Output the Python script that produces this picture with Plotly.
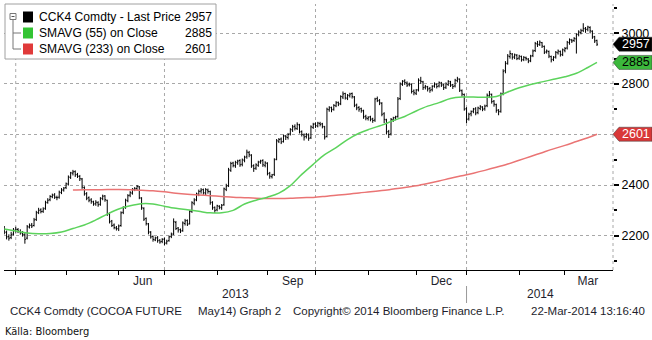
import pandas as pd
import plotly.graph_objects as go

# ---------------- data ----------------
trade_start = "2013-03-25"
trade_end = "2014-03-21"

opens = [
    2225, 2212, 2196, 2192, 2206, 2220, 2224, 2216, 2210, 2203,
    2190, 2234, 2242, 2240, 2264, 2292, 2302, 2296, 2308, 2332,
    2342, 2354, 2361, 2351, 2352, 2370, 2381, 2390, 2404, 2430,
    2447, 2453, 2442, 2434, 2424, 2390, 2366, 2350, 2341, 2333,
    2326, 2330, 2324, 2346, 2357, 2340, 2287, 2258, 2242, 2230,
    2226, 2240, 2292, 2312, 2338, 2360, 2368, 2384, 2386, 2393,
    2348, 2308, 2268, 2246, 2213, 2197, 2183, 2192, 2182, 2177,
    2186, 2171, 2180, 2197, 2207, 2252, 2230, 2224, 2220, 2248,
    2260, 2247, 2297, 2328, 2342, 2363, 2376, 2382, 2368, 2380,
    2374, 2332, 2312, 2302, 2316, 2310, 2322, 2383, 2398, 2458,
    2487, 2476, 2488, 2497, 2482, 2498, 2512, 2528, 2518, 2477,
    2467, 2478, 2492, 2497, 2478, 2486, 2447, 2433, 2442, 2502,
    2573, 2582, 2572, 2593, 2588, 2602, 2618, 2632, 2623, 2638,
    2612, 2598, 2592, 2598, 2587, 2628, 2642, 2633, 2643, 2642,
    2630, 2592, 2698, 2707, 2700, 2713, 2727, 2722, 2748, 2762,
    2743, 2753, 2762, 2748, 2717, 2707, 2702, 2693, 2672, 2663,
    2670, 2662, 2657, 2742, 2733, 2723, 2682, 2658, 2612, 2602,
    2658, 2667, 2672, 2742, 2798, 2812, 2803, 2797, 2798, 2772,
    2763, 2777, 2813, 2808, 2787, 2788, 2782, 2777, 2792, 2798,
    2792, 2803, 2797, 2787, 2798, 2808, 2797, 2792, 2813, 2818,
    2773, 2758, 2702, 2662, 2682, 2692, 2702, 2687, 2703, 2708,
    2702, 2714, 2753, 2758, 2732, 2718, 2697, 2692, 2762, 2852,
    2882, 2908, 2918, 2907, 2913, 2902, 2908, 2897, 2903, 2898,
    2892, 2912, 2932, 2958, 2957, 2963, 2948, 2927, 2928, 2908,
    2897, 2907, 2923, 2928, 2917, 2933, 2942, 2963, 2973, 2972,
    2978, 2997, 3003, 3012, 3018, 3017, 3023, 3008, 2987, 2972,
]
highs = [
    2238, 2220, 2205, 2215, 2230, 2235, 2230, 2225, 2218, 2210,
    2242, 2248, 2250, 2270, 2298, 2310, 2308, 2312, 2338, 2348,
    2360, 2366, 2368, 2358, 2378, 2388, 2392, 2410, 2438, 2452,
    2460, 2458, 2448, 2440, 2428, 2395, 2372, 2355, 2348, 2338,
    2340, 2336, 2352, 2362, 2360, 2342, 2292, 2262, 2248, 2238,
    2244, 2296, 2316, 2346, 2364, 2376, 2388, 2392, 2400, 2396,
    2352, 2312, 2272, 2250, 2218, 2200, 2196, 2198, 2186, 2190,
    2192, 2184, 2200, 2212, 2268, 2258, 2234, 2228, 2256, 2266,
    2264, 2300, 2336, 2348, 2370, 2382, 2388, 2386, 2388, 2386,
    2378, 2336, 2315, 2322, 2320, 2325, 2390, 2405, 2468, 2492,
    2492, 2496, 2500, 2502, 2505, 2516, 2540, 2535, 2522, 2482,
    2486, 2496, 2500, 2502, 2494, 2490, 2452, 2444, 2506, 2582,
    2586, 2588, 2600, 2598, 2606, 2625, 2638, 2640, 2648, 2642,
    2616, 2604, 2606, 2604, 2636, 2646, 2648, 2650, 2650, 2646,
    2634, 2706, 2712, 2710, 2720, 2732, 2730, 2755, 2770, 2765,
    2760, 2765, 2766, 2752, 2722, 2712, 2706, 2698, 2678, 2672,
    2674, 2666, 2745, 2750, 2740, 2728, 2688, 2662, 2618, 2665,
    2670, 2674, 2748, 2806, 2815, 2818, 2810, 2805, 2802, 2778,
    2780, 2822, 2828, 2812, 2796, 2792, 2788, 2795, 2806, 2802,
    2810, 2808, 2800, 2806, 2815, 2812, 2800, 2820, 2828, 2822,
    2778, 2762, 2708, 2686, 2695, 2705, 2708, 2710, 2716, 2712,
    2718, 2762, 2772, 2762, 2736, 2722, 2700, 2766, 2858, 2890,
    2918, 2932, 2922, 2920, 2918, 2915, 2912, 2910, 2908, 2902,
    2915, 2936, 2966, 2970, 2972, 2966, 2952, 2936, 2932, 2912,
    2910, 2930, 2936, 2932, 2940, 2946, 2970, 2980, 2978, 2985,
    3000, 3012, 3018, 3040, 3025, 3030, 3028, 3012, 2990, 2975,
]
lows = [
    2205, 2185, 2180, 2186, 2200, 2212, 2210, 2204, 2196, 2168,
    2185, 2228, 2230, 2236, 2258, 2285, 2288, 2290, 2302, 2326,
    2336, 2348, 2345, 2340, 2346, 2364, 2374, 2384, 2398, 2424,
    2438, 2432, 2428, 2416, 2385, 2358, 2340, 2332, 2326, 2318,
    2318, 2314, 2318, 2340, 2334, 2278, 2248, 2234, 2225, 2220,
    2218, 2235, 2285, 2306, 2332, 2352, 2362, 2376, 2380, 2344,
    2302, 2258, 2240, 2205, 2188, 2176, 2178, 2172, 2168, 2170,
    2162, 2165, 2176, 2190, 2202, 2222, 2212, 2210, 2215, 2240,
    2238, 2244, 2290, 2320, 2336, 2356, 2366, 2362, 2360, 2366,
    2322, 2302, 2290, 2296, 2304, 2302, 2318, 2376, 2392, 2452,
    2470, 2468, 2480, 2472, 2474, 2490, 2504, 2510, 2468, 2452,
    2460, 2472, 2484, 2472, 2470, 2438, 2425, 2426, 2436, 2498,
    2566, 2562, 2568, 2578, 2580, 2596, 2610, 2616, 2618, 2604,
    2592, 2576, 2584, 2575, 2582, 2622, 2626, 2628, 2632, 2624,
    2580, 2588, 2690, 2688, 2694, 2708, 2712, 2716, 2740, 2738,
    2736, 2746, 2742, 2708, 2696, 2690, 2686, 2662, 2656, 2655,
    2652, 2646, 2650, 2728, 2716, 2672, 2645, 2600, 2586, 2596,
    2650, 2656, 2666, 2736, 2792, 2796, 2788, 2790, 2762, 2755,
    2756, 2770, 2800, 2776, 2778, 2770, 2765, 2770, 2785, 2782,
    2786, 2788, 2776, 2780, 2792, 2788, 2780, 2786, 2806, 2768,
    2750, 2694, 2645, 2655, 2672, 2684, 2676, 2680, 2696, 2692,
    2694, 2708, 2744, 2722, 2710, 2686, 2676, 2686, 2755, 2842,
    2876, 2900, 2896, 2898, 2894, 2895, 2888, 2890, 2892, 2882,
    2886, 2906, 2926, 2946, 2950, 2942, 2918, 2920, 2902, 2885,
    2890, 2900, 2916, 2908, 2910, 2925, 2936, 2955, 2962, 2966,
    2920, 2988, 2996, 3005, 3002, 3008, 3000, 2978, 2962, 2950,
]
closes = [
    2215, 2195, 2190, 2205, 2222, 2225, 2218, 2212, 2205, 2185,
    2235, 2240, 2238, 2262, 2290, 2300, 2295, 2305, 2330, 2340,
    2355, 2360, 2352, 2350, 2372, 2380, 2388, 2405, 2432, 2448,
    2452, 2440, 2435, 2425, 2392, 2365, 2348, 2340, 2335, 2325,
    2332, 2322, 2348, 2356, 2342, 2285, 2255, 2240, 2232, 2228,
    2238, 2290, 2310, 2340, 2358, 2370, 2382, 2385, 2395, 2350,
    2310, 2265, 2248, 2215, 2195, 2185, 2190, 2180, 2175, 2185,
    2170, 2178, 2195, 2205, 2255, 2228, 2222, 2218, 2250, 2258,
    2245, 2295, 2330, 2340, 2365, 2375, 2380, 2370, 2382, 2375,
    2330, 2310, 2300, 2318, 2312, 2320, 2385, 2395, 2460, 2485,
    2478, 2490, 2495, 2480, 2500, 2510, 2530, 2520, 2475, 2465,
    2480, 2490, 2495, 2480, 2488, 2445, 2435, 2440, 2500, 2575,
    2580, 2570, 2595, 2590, 2600, 2620, 2630, 2625, 2640, 2610,
    2600, 2590, 2600, 2585, 2630, 2640, 2635, 2645, 2640, 2632,
    2590, 2700, 2705, 2698, 2715, 2725, 2720, 2750, 2760, 2745,
    2755, 2760, 2750, 2715, 2705, 2700, 2695, 2670, 2665, 2668,
    2660, 2655, 2740, 2735, 2725, 2680, 2660, 2610, 2600, 2660,
    2665, 2670, 2740, 2800, 2810, 2805, 2795, 2800, 2770, 2765,
    2775, 2815, 2810, 2785, 2790, 2780, 2775, 2790, 2800, 2790,
    2805, 2795, 2785, 2800, 2810, 2795, 2790, 2815, 2820, 2775,
    2760, 2700, 2660, 2680, 2690, 2700, 2685, 2705, 2710, 2700,
    2712, 2755, 2760, 2730, 2720, 2695, 2690, 2760, 2850, 2880,
    2910, 2920, 2905, 2915, 2900, 2910, 2895, 2905, 2900, 2890,
    2910, 2930, 2960, 2955, 2965, 2950, 2925, 2930, 2910, 2895,
    2905, 2925, 2930, 2915, 2935, 2940, 2965, 2975, 2970, 2980,
    2995, 3005, 3010, 3020, 3015, 3025, 3010, 2985, 2970, 2957,
]

# weekly readings of the moving averages (Mondays), plus the last day
sma55_start = "2013-03-25"
sma55 = [
    2226, 2218, 2210, 2207, 2208, 2214, 2228, 2242, 2262, 2285,
    2305, 2318, 2326, 2325, 2316, 2308, 2302, 2296, 2290, 2290,
    2300, 2325, 2340, 2352, 2368, 2398, 2442, 2482, 2520, 2548,
    2580, 2605, 2622, 2637, 2655, 2671, 2693, 2712, 2726, 2742,
    2748, 2748, 2747, 2750, 2768, 2785, 2798, 2808, 2818, 2828,
    2842, 2865, 2885,
]
sma233_start = "2013-05-06"
sma233 = [
    2380, 2381, 2381, 2382, 2382, 2381, 2379, 2377, 2373, 2368,
    2364, 2361, 2358, 2355, 2352, 2350, 2348, 2347, 2347, 2348,
    2350, 2351, 2355, 2360, 2364, 2369, 2373, 2378, 2384, 2390,
    2397, 2406, 2416, 2427, 2437, 2447, 2458, 2470, 2483, 2498,
    2513, 2528, 2543, 2557, 2572, 2587, 2601,
]

legend_names = ["CCK4 Comdty - Last Price", "SMAVG (55) on Close", "SMAVG (233) on Close"]
last_values = [2957, 2885, 2601]

y_ticks = [2200, 2400, 2600, 2800, 3000]
month_label_dates = ["2013-06-17 12:00", "2013-09-17", "2013-12-17", "2014-03-17"]
month_labels = ["Jun", "Sep", "Dec", "Mar"]
month_starts = ["2013-04-01", "2013-05-01", "2013-06-03", "2013-07-01", "2013-08-01",
                "2013-09-02", "2013-10-01", "2013-11-01", "2013-12-02", "2014-01-01",
                "2014-02-03", "2014-03-03"]
quarter_starts = ["2013-04-01", "2013-07-01", "2013-10-01", "2014-01-01"]
year_labels = ["2013", "2014"]
year_label_dates = ["2013-08-13", "2014-02-14 12:00"]
year_break = "2014-01-01"

# ---------------- layout geometry ----------------
W, H = 652, 340
L, R, T, B = 4, 39, 4, 70
PW, PH = W - L - R, H - T - B
Y0, Y1 = 2064, 3116


def px(x):
    return (x - L) / PW


def py(y):
    return 1 - (y - T) / PH


FONT = "Liberation Sans, Arial, sans-serif"
NARROW = "Liberation Sans Narrow, DejaVu Sans Condensed, Arial Narrow, sans-serif"
TXT = "#1e1e2c"
GREEN = "#5cd35c"
RED = "#ea7474"

dates = pd.bdate_range(trade_start, trade_end)
s55_dates = list(pd.date_range(sma55_start, periods=len(sma55) - 1, freq="7D")) + [pd.Timestamp(trade_end)]
s233_dates = list(pd.date_range(sma233_start, periods=len(sma233) - 1, freq="7D")) + [pd.Timestamp(trade_end)]

fig = go.Figure()
fig.add_trace(go.Scatter(x=s233_dates, y=sma233, mode="lines",
                         line=dict(color=RED, width=1.5, shape="spline"), hoverinfo="skip", showlegend=False))
fig.add_trace(go.Scatter(x=s55_dates, y=sma55, mode="lines",
                         line=dict(color=GREEN, width=1.5, shape="spline"), hoverinfo="skip", showlegend=False))
fig.add_trace(go.Ohlc(x=dates, open=opens, high=highs, low=lows, close=closes,
                      increasing=dict(line=dict(color="black", width=1)),
                      decreasing=dict(line=dict(color="black", width=1)),
                      tickwidth=0.45, showlegend=False))

shapes = []
annotations = []

# vertical dotted grid at quarter starts
for d in quarter_starts:
    shapes.append(dict(type="line", xref="x", yref="paper", x0=d, x1=d, y0=0, y1=1,
                       line=dict(color="#a8a8a8", width=1, dash="dot"), layer="below"))
# right axis dotted line
shapes.append(dict(type="line", xref="paper", yref="paper", x0=1, x1=1, y0=0, y1=1,
                   line=dict(color="#a8a8a8", width=1, dash="dot")))

# legend box
shapes.append(dict(type="rect", xref="paper", yref="paper", x0=px(5), x1=px(216), y0=py(59), y1=py(4),
                   fillcolor="white", line=dict(color="#a0a0a0", width=1)))
# tree connector
shapes.append(dict(type="rect", xref="paper", yref="paper", x0=px(10), x1=px(16), y0=py(19.5), y1=py(13.5),
                   fillcolor="white", line=dict(color="#777", width=1)))
shapes.append(dict(type="line", xref="paper", yref="paper", x0=px(11.5), x1=px(14.5), y0=py(16.5), y1=py(16.5),
                   line=dict(color="#555", width=1)))
shapes.append(dict(type="line", xref="paper", yref="paper", x0=px(13), x1=px(13), y0=py(19.5), y1=py(49),
                   line=dict(color="#777", width=1)))
for yy in (33, 49):
    shapes.append(dict(type="line", xref="paper", yref="paper", x0=px(13), x1=px(21), y0=py(yy), y1=py(yy),
                       line=dict(color="#777", width=1)))
sw_colors = ["black", "#33c433", "#e03a3a"]
for k, (name, val, c) in enumerate(zip(legend_names, last_values, sw_colors)):
    yc = 17 + 16 * k
    shapes.append(dict(type="rect", xref="paper", yref="paper", x0=px(23), x1=px(33), y0=py(yc + 5.5), y1=py(yc - 5.5),
                       fillcolor=c, line=dict(width=0)))
    annotations.append(dict(xref="paper", yref="paper", x=px(37), y=py(yc), text=name, showarrow=False,
                            xanchor="left", yanchor="middle", font=dict(family=FONT, size=12.1, color="black")))
    annotations.append(dict(xref="paper", yref="paper", x=px(214), y=py(yc), text=str(val), showarrow=False,
                            xanchor="right", yanchor="middle", font=dict(family=FONT, size=12.1, color="black")))

# right-hand value tags
hh = 7 * (Y1 - Y0) / PH
tag_styles = [("black", "white"), ("#3cb83c", "black"), ("#d93838", "white")]
for v, (fill, tc) in zip(last_values, tag_styles):
    path = (f"M {px(613)},{v} L {px(619)},{v + hh} L {px(652)},{v + hh} "
            f"L {px(652)},{v - hh} L {px(619)},{v - hh} Z")
    shapes.append(dict(type="path", xref="paper", yref="y", path=path, fillcolor=fill,
                       line=dict(color="#333", width=0.5), layer="above"))
    annotations.append(dict(xref="paper", yref="y", x=px(636), y=v, text=str(v), showarrow=False,
                            xanchor="center", yanchor="middle", font=dict(family=FONT, size=12.5, color=tc)))

# year labels and separator
for lab, d in zip(year_labels, year_label_dates):
    annotations.append(dict(xref="x", yref="paper", x=d, y=py(294), text=lab, showarrow=False,
                            xanchor="center", yanchor="middle", font=dict(family=FONT, size=12, color=TXT)))
shapes.append(dict(type="line", xref="x", yref="paper", x0=year_break, x1=year_break, y0=py(286), y1=py(303),
                   line=dict(color="#999", width=1)))

# footer
footer = [
    ("CCK4 Comdty (COCOA FUTURE", 8, "left"),
    ("May14) Graph 2", 196, "left"),
    ("Copyright\u00a9 2014 Bloomberg Finance L.P.", 291, "left"),
    ("22-Mar-2014 13:16:40", 647, "right"),
]
for text, xx, anc in footer:
    annotations.append(dict(xref="paper", yref="paper", x=px(xx), y=py(311), text=text, showarrow=False,
                            xanchor=anc, yanchor="middle", font=dict(family=FONT, size=11.5, color=TXT)))
annotations.append(dict(xref="paper", yref="paper", x=px(3), y=py(331), text="Källa: Bloomberg", showarrow=False,
                        xanchor="left", yanchor="middle", font=dict(family=NARROW, size=11, color="#111")))

fig.update_layout(
    width=W, height=H, margin=dict(l=L, r=R, t=T, b=B),
    paper_bgcolor="white", plot_bgcolor="white",
    showlegend=False, shapes=shapes, annotations=annotations,
    xaxis=dict(
        range=["2013-03-22 21:00", "2014-04-01"],
        rangebreaks=[dict(bounds=["sat", "mon"])],
        tickmode="array", tickvals=month_label_dates, ticktext=month_labels, ticks="",
        tickfont=dict(family=FONT, size=12, color=TXT),
        showgrid=False, zeroline=False, showline=True, linecolor="black", linewidth=1,
        rangeslider=dict(visible=False),
        minor=dict(tickmode="array", tickvals=month_starts, ticks="outside", ticklen=4,
                   tickcolor="black", tickwidth=1, showgrid=False),
    ),
    yaxis=dict(
        side="right", range=[Y0, Y1], tickmode="array", tickvals=y_ticks,
        ticks="outside", ticklen=5, tickwidth=2, tickcolor="black",
        tickfont=dict(family=FONT, size=12.5, color="black"),
        showgrid=True, gridcolor="#a8a8a8", griddash="dot", gridwidth=1,
        zeroline=False, showline=False,
        minor=dict(dtick=100, tick0=2100, ticks="outside", ticklen=3, tickcolor="black", showgrid=False),
    ),
)

fig.write_html("out.html")
